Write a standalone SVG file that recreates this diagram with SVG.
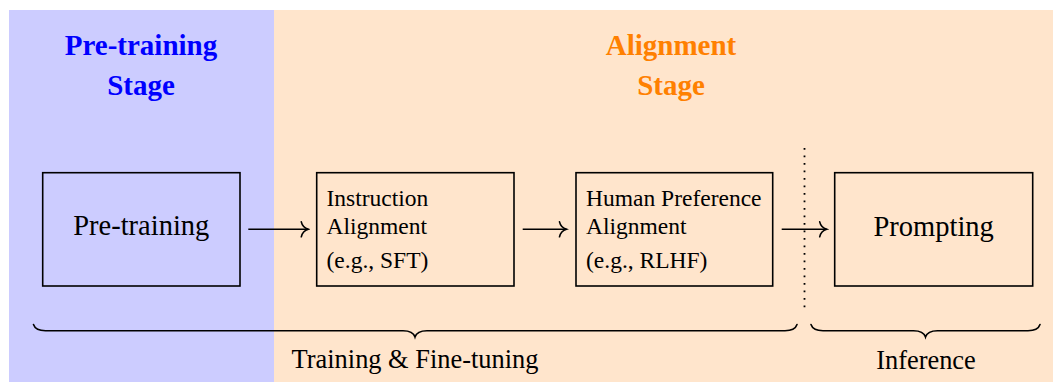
<svg xmlns="http://www.w3.org/2000/svg" width="1053" height="382" viewBox="0 0 1053 382">
  <defs>
    <marker id="to" viewBox="-10 -10 12 20" markerWidth="12" markerHeight="20" refX="0" refY="0" orient="auto" markerUnits="userSpaceOnUse">
      <path d="M -7 -7.5 C -6 -3 -2.5 -0.8 0 0 C -2.5 0.8 -6 3 -7 7.5" fill="none" stroke="#000" stroke-width="1.6" stroke-linecap="round"/>
    </marker>
  </defs>
  <style>
    .serif { font-family: "Liberation Serif", "Times New Roman", serif; }
    .title { font-weight: bold; font-size: 29px; text-anchor: middle; }
    .box { fill: none; stroke: #000; stroke-width: 1.6; }
    .big { font-size: 28.5px; text-anchor: middle; fill: #000; }
    .small { font-size: 23.5px; fill: #000; }
    .label { font-size: 26.4px; text-anchor: middle; fill: #000; }
    .conn { stroke: #000; stroke-width: 1.6; fill: none; }
    .brace { stroke: #000; stroke-width: 1.6; fill: none; stroke-linecap: round; }
  </style>
  <rect id="bg-pretraining" x="9" y="10" width="265" height="372" fill="#CCCCFF"/>
  <rect id="bg-alignment" x="274" y="10" width="779" height="372" fill="#FFE5CC"/>

  <g id="stage-titles" class="serif">
    <text class="title" x="141" y="55" fill="#0000FF">Pre-training</text>
    <text class="title" x="141" y="95" fill="#0000FF">Stage</text>
    <text class="title" x="671" y="55" fill="#FF8000">Alignment</text>
    <text class="title" x="671" y="94.5" fill="#FF8000">Stage</text>
  </g>

  <g id="node-pretraining" class="serif">
    <rect class="box" x="42.7" y="172.7" width="197.3" height="113.3"/>
    <text class="big" x="141.3" y="235">Pre-training</text>
  </g>

  <g id="node-instruction" class="serif">
    <rect class="box" x="316.7" y="172.7" width="197.3" height="113.3"/>
    <text class="small" x="326.5" y="205.7">Instruction</text>
    <text class="small" x="326.5" y="234.2">Alignment</text>
    <text class="small" x="326.5" y="268.3">(e.g., SFT)</text>
  </g>

  <g id="node-human" class="serif">
    <rect class="box" x="576" y="172.7" width="196.7" height="113.3"/>
    <text class="small" x="586" y="205.7">Human Preference</text>
    <text class="small" x="586" y="234.2">Alignment</text>
    <text class="small" x="586" y="268.3">(e.g., RLHF)</text>
  </g>

  <g id="node-prompting" class="serif">
    <rect class="box" x="834.7" y="172.7" width="198" height="113.3"/>
    <text class="big" x="933.7" y="235.5">Prompting</text>
  </g>

  <g id="connectors">
    <line class="conn" x1="248.3" y1="229.3" x2="308.3" y2="229.3" marker-end="url(#to)"/>
    <line class="conn" x1="522.7" y1="229.3" x2="566.5" y2="229.3" marker-end="url(#to)"/>
    <line class="conn" x1="781.7" y1="229.3" x2="826.7" y2="229.3" marker-end="url(#to)"/>
    <line id="divider" x1="804.5" y1="148" x2="804.5" y2="308" stroke="#000" stroke-width="1.8" stroke-dasharray="1.8 5.7"/>
  </g>

  <g id="brace-training">
    <path class="brace" d="M 33.5 324.5 Q 35.5 330.7 45.5 330.7 L 403 330.7 Q 413 330.7 415 337 Q 417 330.7 427 330.7 L 785 330.7 Q 795 330.7 797 324.5"/>
    <text class="serif label" x="415" y="368">Training &amp; Fine-tuning</text>
  </g>

  <g id="brace-inference">
    <path class="brace" d="M 811 324.5 Q 813 330.7 823 330.7 L 913.5 330.7 Q 923.5 330.7 925.5 337 Q 927.5 330.7 937.5 330.7 L 1028 330.7 Q 1038 330.7 1040 324.5"/>
    <text class="serif label" x="926" y="368.5">Inference</text>
  </g>
</svg>
